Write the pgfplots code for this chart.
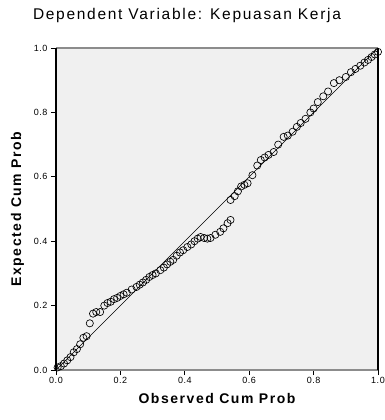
\documentclass[border=0pt]{standalone}
\usepackage{pgfplots}
\pgfplotsset{compat=1.18}
\usepackage{fontspec}
\setmainfont{Liberation Sans}
\newfontfamily\spaced[LetterSpace=6]{Liberation Sans}
\newfontfamily\wide[LetterSpace=11]{Liberation Sans}
\definecolor{plotbg}{HTML}{F0F0F0}
\begin{document}
\begin{tikzpicture}
\useasboundingbox (-56pt,-50pt) rectangle (329pt,370pt);
\begin{axis}[
  at={(0pt,0pt)}, anchor=south west,
  scale only axis, width=322pt, height=322pt,
  xmin=0, xmax=1, ymin=0, ymax=1,
  axis background/.style={fill=plotbg},
  axis line style={draw=gray!90, line width=1.1pt},
  separate axis lines,
  y axis line style={draw=black, line width=1.3pt},
  xtick={0,0.2,0.4,0.6,0.8,1.0}, ytick={0,0.2,0.4,0.6,0.8,1.0},
  xticklabels={0.0,0.2,0.4,0.6,0.8,1.0}, yticklabels={0.0,0.2,0.4,0.6,0.8,1.0},
  tick align=outside, tick pos=left,
  major tick length=5pt,
  tick style={black, line width=0.8pt},
  ticklabel style={font=\fontsize{9}{10}\selectfont\spaced},
  xticklabel style={yshift=1pt},
  xlabel={\fontsize{14}{16}\selectfont\bfseries\wide Observed Cum Prob},
  ylabel={\fontsize{14}{16}\selectfont\bfseries\wide Expected Cum Prob},
  xlabel style={yshift=-3pt},
  ylabel style={yshift=3pt},
  clip=false,
]
\addplot[black, line width=0.6pt] coordinates {(0,0) (1,1)};
\addplot[only marks, mark=o, mark size=3.6pt, mark options={black, line width=0.65pt}] coordinates {
(0.005,0.008)(0.015,0.012)(0.025,0.02)(0.035,0.03)(0.045,0.04)(0.055,0.055)(0.065,0.065)(0.075,0.08)(0.085,0.10)(0.095,0.105)
(0.105,0.145)(0.115,0.175)(0.125,0.18)(0.137,0.18)(0.15,0.2)(0.16,0.208)(0.17,0.212)(0.18,0.22)(0.19,0.224)(0.2,0.23)
(0.21,0.235)(0.22,0.24)(0.235,0.25)(0.25,0.258)(0.26,0.265)(0.27,0.272)(0.28,0.28)(0.29,0.289)(0.3,0.295)(0.31,0.3)
(0.324,0.31)(0.335,0.318)(0.345,0.328)(0.355,0.336)(0.364,0.342)(0.375,0.355)(0.385,0.365)(0.395,0.372)(0.408,0.382)(0.42,0.39)
(0.43,0.4)(0.44,0.408)(0.449,0.413)(0.46,0.41)(0.47,0.408)(0.48,0.41)(0.495,0.42)(0.51,0.429)(0.52,0.44)(0.533,0.456)
(0.542,0.466)(0.542,0.528)(0.555,0.54)(0.565,0.555)(0.575,0.57)(0.585,0.575)(0.595,0.58)(0.61,0.605)(0.625,0.635)(0.636,0.652)
(0.648,0.66)(0.66,0.668)(0.676,0.677)(0.69,0.7)(0.707,0.724)(0.72,0.728)(0.735,0.74)(0.748,0.755)(0.76,0.767)(0.775,0.78)
(0.79,0.8)(0.8,0.812)(0.813,0.832)(0.83,0.85)(0.845,0.865)(0.863,0.891)(0.88,0.9)(0.9,0.91)(0.916,0.925)(0.93,0.935)
(0.945,0.945)(0.958,0.955)(0.969,0.963)(0.98,0.972)(0.99,0.98)(1.0,0.988)
};
\end{axis}
\node[font=\fontsize{15.5}{17}\selectfont\wide] at (131pt,355pt) {Dependent Variable: Kepuasan Kerja};
\end{tikzpicture}
\end{document}
